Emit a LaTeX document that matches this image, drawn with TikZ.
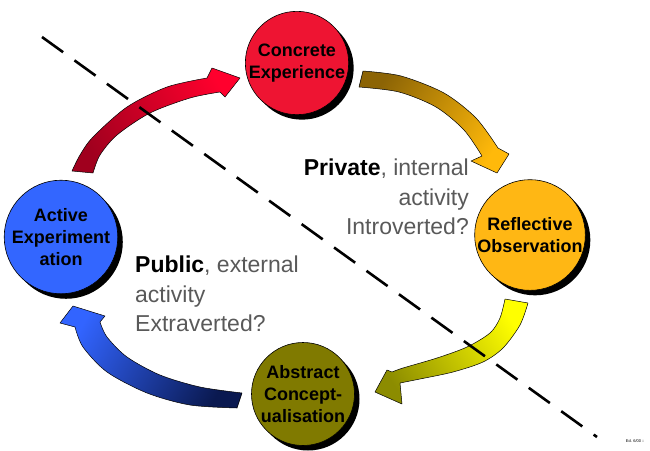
\documentclass[tikz,border=0pt]{standalone}
\usepackage{fontspec}
\setmainfont{Liberation Sans}
\usetikzlibrary{shadows}
\definecolor{rouge}{RGB}{238,20,50}
\definecolor{orange_vif}{RGB}{255,183,20}
\definecolor{bleu}{RGB}{51,102,255}
\definecolor{olive}{RGB}{128,122,0}
\definecolor{rouge_f}{RGB}{160,0,30}
\definecolor{rouge_c}{RGB}{255,0,45}
\definecolor{brun}{RGB}{140,100,5}
\definecolor{or}{RGB}{255,185,10}
\definecolor{jaune}{RGB}{255,255,0}
\definecolor{jaune_f}{RGB}{140,140,0}
\definecolor{bleu_c}{RGB}{50,100,255}
\definecolor{marine}{RGB}{10,25,80}
\begin{document}
\begin{tikzpicture}[x=1pt,y=-1pt]
		\tikzstyle{cercle}=[circle, draw, line width=0.6pt, minimum size=103pt, inner sep=0pt, align=center, font=\bfseries\fontsize{18}{22}\selectfont, drop shadow={shadow xshift=5pt, shadow yshift=-5pt, opacity=1, fill=black}]
		\tikzstyle{fleche}=[draw, line width=0.5pt, line join=round]
		\tikzstyle{texte}=[inner sep=0pt, font=\fontsize{23}{29.5}\selectfont, text=black!65]
		\useasboundingbox (0,0) rectangle (650,450);
		% fleches
		\path[fleche, bottom color=rouge_f, top color=rouge_c, shading angle=-61]
			plot[smooth] coordinates {(72,171) (80,155) (93,137) (127,107) (167,87) (207,78)}
			-- (212,68) -- (240,78) -- (225,97)
			-- plot[smooth] coordinates {(220,92) (190,98) (150,113) (117,135) (100,155) (93,173)} -- cycle; % haut gauche
		\path[fleche, bottom color=brun, top color=or, shading angle=-123]
			plot[smooth] coordinates {(363,71) (401,76) (444,93) (476,118) (498,148)}
			-- (509,154) -- (497,173) -- (471,161)
			-- plot[smooth] coordinates {(482,156) (464,130) (436,107) (399,92) (359,87)} -- cycle; % haut droite
		\path[fleche, bottom color=jaune, top color=jaune_f, shading angle=124]
			plot[smooth] coordinates {(528,303) (520,325) (503,348) (483,362) (453,372) (420,379) (400,383)}
			-- (402,404) -- (375,392) -- (387,370)
			-- plot[smooth] coordinates {(392,372) (403,368) (437,358) (467,347) (490,333) (500,318) (505,299)} -- cycle; % bas droite
		\path[fleche, bottom color=marine, top color=bleu_c, shading angle=60]
			plot[smooth] coordinates {(242,393) (200,387) (160,375) (127,357) (107,337) (100,322)}
			-- (105,316) -- (73,306) -- (60,323)
			-- plot[smooth] coordinates {(75,327) (83,347) (107,372) (147,393) (190,405) (237,408)} -- cycle; % bas gauche
		% cercles
		\node[cercle, fill=rouge] (ce) at (297,63) {Concrete\\Experience}; % haut
		\node[cercle, fill=orange_vif] (ro) at (530,235) {Reflective\\Observation}; % droite
		\node[cercle, fill=olive] (ac) at (303,394) {Abstract\\Concept-\\ualisation}; % bas
		\node[cercle, fill=bleu] (ae) at (61,237) {Active\\Experiment\\ation}; % gauche
		% textes
		\node[texte, anchor=north east, align=right] (prive) at (469,159) {\textcolor{black}{\bfseries Private}, internal\\activity\\Introverted?};
		\node[texte, anchor=north west, align=left] (public) at (135,256) {\textcolor{black}{\bfseries Public}, external\\activity\\Extraverted?};
		\node[font=\fontsize{4}{4}\selectfont, anchor=east] (sig) at (648,441) {Ed. 6/00 ::};
		% ligne
		\coordinate (hg) at (42,37);
		\coordinate (bd) at (597,437);
		\draw[line width=2.6pt, dash pattern=on 26pt off 14pt] (hg) -- (bd);
	\end{tikzpicture}
\end{document}
